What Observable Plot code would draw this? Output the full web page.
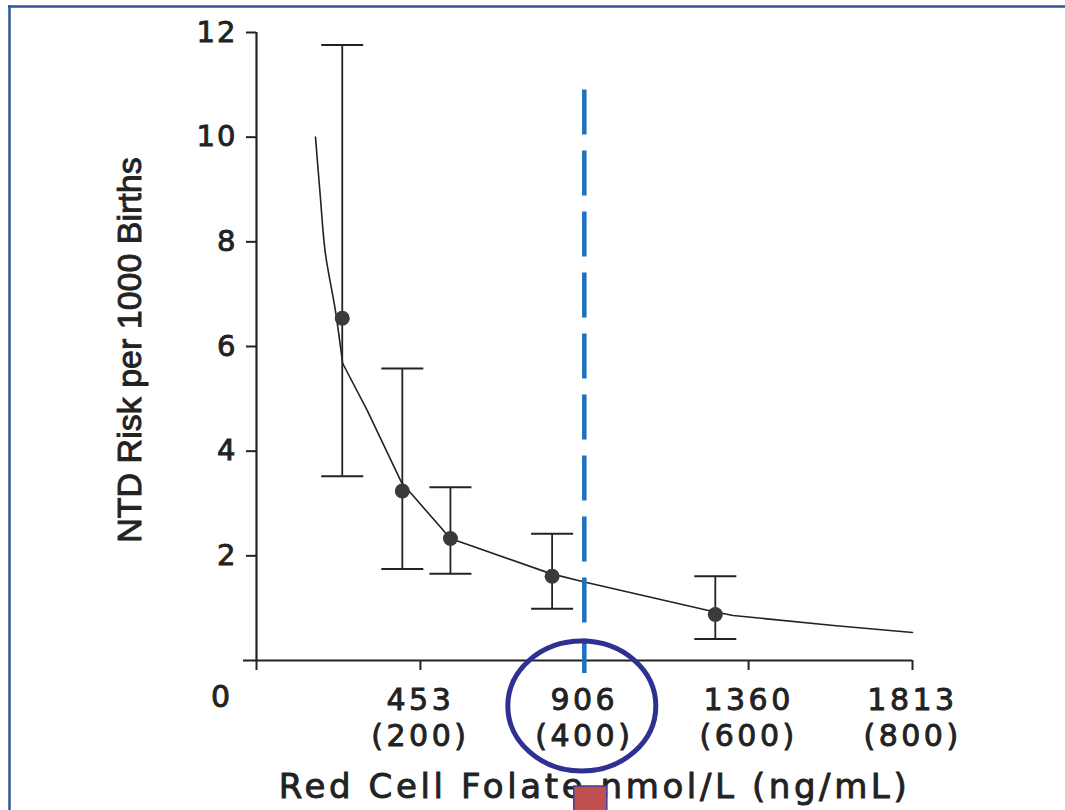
<!DOCTYPE html>
<html>
<head>
<meta charset="utf-8">
<script src="https://cdn.jsdelivr.net/npm/d3@7"></script>
<script src="https://cdn.jsdelivr.net/npm/@observablehq/plot@0.6"></script>
<style>
  html, body { margin: 0; padding: 0; background: #fff; }
  #chart { width: 1065px; height: 810px; position: relative; overflow: hidden; }
  #chart svg text { stroke: #222; stroke-width: 0.9px; paint-order: normal; }
</style>
</head>
<body>
<div id="chart"></div>
<script>
// ---- data ----
const folate = [237, 403, 536, 817, 1268];          // nmol/L
const risk   = [6.54, 3.24, 2.33, 1.61, 0.88];      // NTD risk per 1000 births
const lower  = [3.52, 1.75, 1.66, 0.99, 0.41];
const upper  = [11.76, 5.58, 3.31, 2.42, 1.61];

// fitted curve: steep head (smooth) and tail (straight segments)
const headX = [163, 176, 190, 218, 238];
const headY = [10.0, 8.9, 7.8, 6.69, 5.68];
const tailX = [238, 306, 401, 536, 813, 906, 1246, 1317, 1595, 1813];
const tailY = [5.68, 4.78, 3.40, 2.33, 1.66, 1.50, 0.96, 0.86, 0.67, 0.535];

const xTicks = [0, 453, 906, 1360, 1813];
const xTickNmol = ["0", "453", "906", "1360", "1813"];
const xTickNg = ["", "(200)", "(400)", "(600)", "(800)"];
const yTicks = [2, 4, 6, 8, 10, 12];

const threshold = 906;
const thresholdTop = 10.9;

const xTitle = "Red Cell Folate nmol/L (ng/mL)";
const yTitle = "NTD Risk per 1000 Births";

// ---- tables ----
const points = folate.map((x, i) => ({x, y: risk[i], lo: lower[i], hi: upper[i]}));
const head = headX.map((x, i) => ({x, y: headY[i]}));
const tail = tailX.map((x, i) => ({x, y: tailY[i]}));
const tickLabel = new Map(xTicks.map((t, i) => [t, i === 0 ? "" : xTickNmol[i] + "\n" + xTickNg[i]]));

const capSymbol = { draw(ctx) { ctx.moveTo(-21, 0); ctx.lineTo(21, 0); } };
const ink = "#222";

const plot = Plot.plot({
  width: 1065,
  height: 810,
  marginLeft: 256,
  marginRight: 153,
  marginTop: 32,
  marginBottom: 150,
  style: { background: "#fff", fontFamily: "'DejaVu Sans', sans-serif", color: ink },
  x: { domain: [0, 1813] },
  y: { domain: [0, 12] },
  marks: [
    Plot.ruleY([0], { stroke: ink, strokeWidth: 2.2, insetLeft: -13 }),
    Plot.ruleX([0], { stroke: ink, strokeWidth: 2.2 }),
    Plot.axisX(xTicks, {
      tickSize: 10, tickPadding: 15, fontSize: 30, lineHeight: 1.17,
      strokeWidth: 2, tickFormat: d => tickLabel.get(d), label: null
    }),
    Plot.text([0], {
      x: d => d, text: () => xTickNmol[0], frameAnchor: "bottom",
      dy: 25, dx: -35, lineAnchor: "top", fontSize: 30
    }),
    Plot.axisY(yTicks, {
      tickSize: 10, tickPadding: 9, fontSize: 29, strokeWidth: 2, label: null,
      tickFormat: d => String(d)
    }),
    Plot.text([yTitle], {
      text: d => d, frameAnchor: "left", rotate: -90, dx: -116, dy: 3.5,
      lineAnchor: "bottom", textAnchor: "middle", fontSize: 34,
      fontFamily: "'Liberation Sans', Arial, sans-serif"
    }),
    Plot.text([xTitle], {
      text: d => d, frameAnchor: "bottom", dy: 137, dx: 10,
      lineAnchor: "bottom", textAnchor: "middle", fontSize: 34
    }),
    Plot.line(head, { x: "x", y: "y", stroke: ink, strokeWidth: 1.6, curve: "catmull-rom" }),
    Plot.line(tail, { x: "x", y: "y", stroke: ink, strokeWidth: 1.6 }),
    Plot.ruleX(points, { x: "x", y1: "lo", y2: "hi", stroke: ink, strokeWidth: 1.8 }),
    Plot.dot(points, { x: "x", y: "lo", symbol: capSymbol, stroke: ink, strokeWidth: 2, fill: "none", r: 1 }),
    Plot.dot(points, { x: "x", y: "hi", symbol: capSymbol, stroke: ink, strokeWidth: 2, fill: "none", r: 1 }),
    Plot.dot(points, { x: "x", y: "y", r: 7.5, fill: "#3a3a3a" }),
    Plot.ruleX([threshold], {
      y1: thresholdTop, y2: -0.25, stroke: "#1f70bf", strokeWidth: 4.5, strokeDasharray: "45,16"
    })
  ]
});

const svg = d3.select(plot);
svg.selectAll('g[aria-label="x-axis tick label"] text').style("letter-spacing", "3.5px");
svg.selectAll('g[aria-label="y-axis tick label"] text').style("letter-spacing", "2px");
svg.selectAll("text").filter(function() { return this.textContent === xTitle; }).style("letter-spacing", "3.6px");
svg.selectAll("text").filter(function() { return this.textContent === xTickNmol[0]; }).style("letter-spacing", "2px");

// annotations: highlight ellipse, red marker, slide border
const sx = plot.scale("x"), sy = plot.scale("y");
const cx = sx.apply(threshold), y0 = sy.apply(0);
svg.append("ellipse")
  .attr("cx", cx - 2).attr("cy", y0 + 46).attr("rx", 74).attr("ry", 65)
  .attr("fill", "none").attr("stroke", "#2e3192").attr("stroke-width", 5);
svg.append("rect")
  .attr("x", cx - 10).attr("y", y0 + 126).attr("width", 33).attr("height", 40)
  .attr("fill", "#c0504d").attr("stroke", "#3b3f9a").attr("stroke-width", 1.5);
svg.append("line").attr("x1", 8).attr("x2", 1065).attr("y1", 6.5).attr("y2", 6.5)
  .attr("stroke", "#2f5597").attr("stroke-width", 2.5);
svg.append("line").attr("x1", 9.5).attr("x2", 9.5).attr("y1", 5.5).attr("y2", 810)
  .attr("stroke", "#2f5597").attr("stroke-width", 2.5);

document.getElementById("chart").appendChild(plot);
</script>
</body>
</html>
